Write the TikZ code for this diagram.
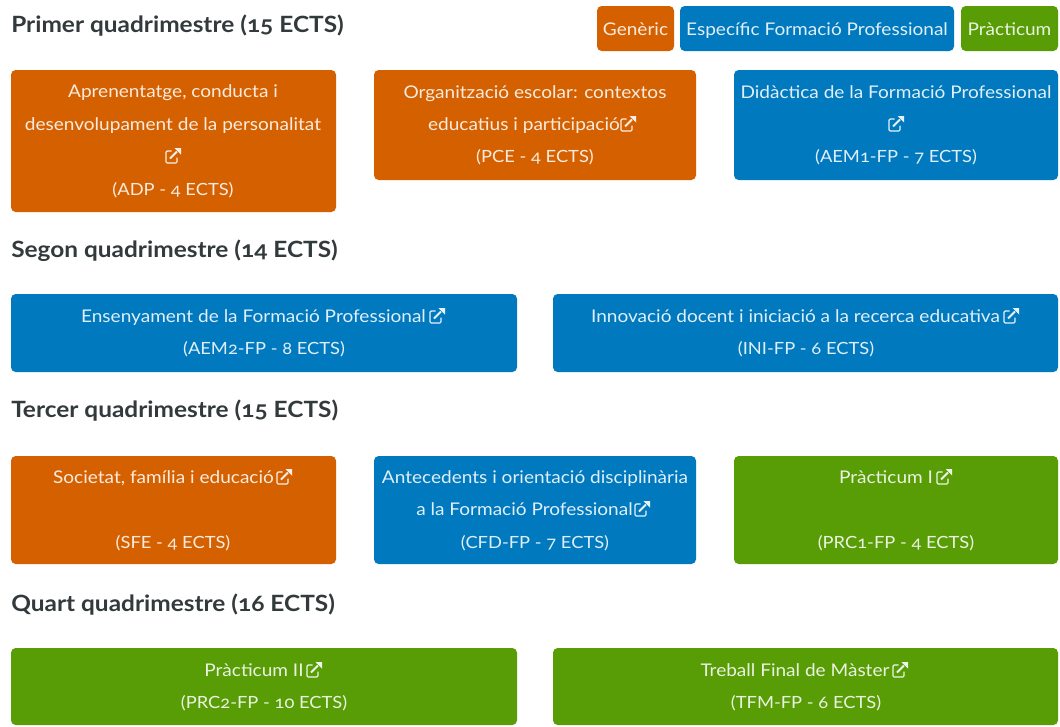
\documentclass[tikz,border=0pt]{standalone}
\usepackage{fontspec}
\setmainfont[Numbers=OldStyle,FakeStretch=1.09]{Lato}
\definecolor{orangebox}{HTML}{D56000}
\definecolor{bluebox}{HTML}{0079BE}
\definecolor{greenbox}{HTML}{589D06}
\definecolor{headtxt}{HTML}{333A3C}
\tikzset{
  x=0.75pt,y=-0.75pt,
  cardbox/.style={rounded corners=3.5pt,draw=none},
  gen/.style={cardbox,fill=orangebox},
  esp/.style={cardbox,fill=bluebox},
  pra/.style={cardbox,fill=greenbox},
  cardtxt/.style={text=white,text opacity=0.88,font=\fontsize{13.1}{15}\selectfont,inner sep=0pt,anchor=base},
  codetxt/.style={cardtxt,font=\fontsize{12.6}{15}\selectfont},
  headtitle/.style={text=headtxt,font=\fontsize{16.8}{19}\selectfont\bfseries,inner sep=0pt,anchor=base west},
  pics/extlink/.style={code={
    \draw[white,opacity=0.9,line width=0.85pt,rounded corners=0.9pt] (6.5,-11) -- (1,-11) -- (1,1) -- (12,1) -- (12,-4.5);
    \draw[white,opacity=0.9,line width=1.5pt] (5,-3.5) -- (12,-10.5);
    \fill[white,opacity=0.9] (9.5,-14) -- (16,-14) -- (16,-7.5) -- cycle;
  }}
}
\begin{document}
\begin{tikzpicture}
\useasboundingbox (0,0) rectangle (1060,726);
\fill[white] (0,0) rectangle (1060,726);
% headings
\node[headtitle] (h1) at (11,32.5) {Primer quadrimestre (15 ECTS)};
\node[headtitle] (h2) at (11,257.5) {Segon quadrimestre (14 ECTS)};
\node[headtitle] (h3) at (11,417.5) {Tercer quadrimestre (15 ECTS)};
\node[headtitle] (h4) at (11,611.5) {Quart quadrimestre (16 ECTS)};
% legend
\fill[gen] (597,6) rectangle (674,51);
\fill[esp] (680,6) rectangle (954,51);
\fill[pra] (961,6) rectangle (1058,51);
\node[cardtxt] (l1) at (635.5,35) {Genèric};
\node[cardtxt] (l2) at (817,35) {Específic Formació Professional};
\node[cardtxt] (l3) at (1009.5,35) {Pràcticum};
% row 1
\fill[gen] (11,70) rectangle (336,212);
\fill[gen] (374,70) rectangle (696,180);
\fill[esp] (734,70) rectangle (1058,180);
\node[cardtxt] (a1) at (173,97.5) {Aprenentatge, conducta i};
\node[cardtxt] (a2) at (173,130.5) {desenvolupament de la personalitat};
\pic at (165,162) {extlink};
\node[codetxt] (a3) at (173,195) {(ADP - 4 ECTS)};
\node[cardtxt] (b1) at (535,98.5) {Organització escolar: contextos};
\node[cardtxt] (b2) at (524,130.5) {educatius i participació};
\pic at (620,130) {extlink};
\node[codetxt] (b3) at (535,162.5) {(PCE - 4 ECTS)};
\node[cardtxt] (c1) at (896,98.5) {Didàctica de la Formació Professional};
\pic at (888,130) {extlink};
\node[codetxt] (c2) at (896,162.5) {(AEM1-FP - 7 ECTS)};
% row 2
\fill[esp] (11,294) rectangle (517,372);
\fill[esp] (553,294) rectangle (1058,372);
\node[cardtxt] (d1) at (253.5,322.5) {Ensenyament de la Formació Professional};
\pic at (429,322) {extlink};
\node[codetxt] (d2) at (264,354.5) {(AEM2-FP - 8 ECTS)};
\node[cardtxt] (e1) at (795.5,322.5) {Innovació docent i iniciació a la recerca educativa};
\pic at (1003,322) {extlink};
\node[codetxt] (e2) at (806,354.5) {(INI-FP - 6 ECTS)};
% row 3
\fill[gen] (11,456) rectangle (336,564);
\fill[esp] (374,456) rectangle (696,564);
\fill[pra] (734,456) rectangle (1058,564);
\node[cardtxt] (f1) at (163.5,483.5) {Societat, família i educació};
\pic at (276,483) {extlink};
\node[codetxt] (f2) at (173,548.5) {(SFE - 4 ECTS)};
\node[cardtxt] (g1) at (535,483.5) {Antecedents i orientació disciplinària};
\node[cardtxt] (g2) at (524.5,515.5) {a la Formació Professional};
\pic at (634,515) {extlink};
\node[codetxt] (g3) at (535,548.5) {(CFD-FP - 7 ECTS)};
\node[cardtxt] (i1) at (886,483.5) {Pràcticum I};
\pic at (936,483) {extlink};
\node[codetxt] (i2) at (896,548.5) {(PRC1-FP - 4 ECTS)};
% row 4
\fill[pra] (11,648) rectangle (517,725);
\fill[pra] (553,648) rectangle (1058,725);
\node[cardtxt] (j1) at (254,676.5) {Pràcticum II};
\pic at (306,676) {extlink};
\node[codetxt] (j2) at (264,708.5) {(PRC2-FP - 10 ECTS)};
\node[cardtxt] (k1) at (795,676.5) {Treball Final de Màster};
\pic at (892,676) {extlink};
\node[codetxt] (k2) at (806,708.5) {(TFM-FP - 6 ECTS)};
\end{tikzpicture}
\end{document}
